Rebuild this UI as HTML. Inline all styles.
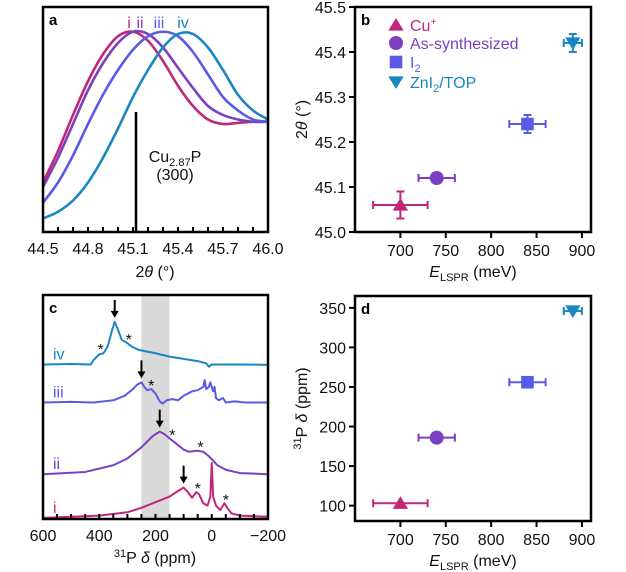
<!DOCTYPE html>
<html><head><meta charset="utf-8">
<style>
html,body{margin:0;padding:0;background:#fff;}
svg{display:block;font-family:"Liberation Sans",Arial,sans-serif;}
</style></head>
<body>
<svg id="fig" width="626" height="572" viewBox="0 0 626 572"></svg>
<script>
// ---------- Panel a data ----------
const aTheta = [44.5,44.6,44.7,44.8,44.9,45.0,45.1,45.2,45.3,45.4,45.5,45.6,45.7,45.8,45.9,46.0];
const aCurveI   = [22,36,52,67,79,87,89,85,76,65,56,50,48,48.5,49,49];
const aCurveII  = [20,33,48,63,75,84,89,88,82,73,64,56,52,50,49,49];
const aCurveIII = [13,22,34,48,61,72,81,87,89,87,80,70,60,54,50,49];
const aCurveIV  = [6,9,14,22,33,46,60,72,82,88,88,82,72,61,54,50];
const aTicks = [44.5,44.8,45.1,45.4,45.7,46.0];
const aRefLine = 45.12;
// ---------- Panel b/d data ----------
const seriesNames = ["Cu+","As-synthesized","I2","ZnI2/TOP"];
const eLspr = [700,740,840,890];
const eLsprErr = [30,20,20,10];
const theta2 = [45.06,45.12,45.24,45.42];
const theta2Err = [0.03,0.005,0.02,0.02];
const pShift = [103,186,256,346];
const pShiftErr = [0,0,0,0];
const bYTicks = [45.0,45.1,45.2,45.3,45.4,45.5];
const bXTicks = [700,750,800,850,900];
const dYTicks = [100,150,200,250,300,350];
// ---------- Panel c data ----------
const cIVppm = [600,500,430,420,400,385,370,355,345,335,320,300,285,260,200,150,100,50,20,10,0,-100,-200];
const cIVval = [69,69.2,69,71,73.5,74,77,84,88,85,80,78.5,77,75.5,74,72.5,71.5,70.5,69.5,68,69,69,68.8];
const cIIIppm = [600,500,420,350,310,280,265,250,240,230,215,200,185,175,160,140,120,100,70,50,30,25,20,10,5,-5,-10,-15,-25,-40,-50,-80,-120,-200];
const cIIIval = [52,52.3,52,53,55,58,60,61,59,57.5,58,56,52.5,51.5,53,53.5,53,55,57,57.5,59,62,58,59,61,57,59,54,53,54,52,52.5,52,52];
const cIIppm = [600,450,350,300,250,210,185,170,150,130,100,80,50,30,10,-20,-50,-100,-200];
const cIIval = [20,21,24,27,32,37,39,38,36,34,31,30,30.5,30,28,24,22,20.5,20];
const cIppm = [600,400,300,250,200,150,120,100,85,70,55,45,30,15,5,0,-5,-15,-30,-45,-55,-70,-100,-200];
const cIval = [0.5,1.5,3,5,7.5,10,12.5,14,12,9.5,12,11,7,6,10,25,10,6,4,7,5,2.5,1.5,1];
const cXTicks = [600,400,200,0,-200];
const cArrowsPpm = [345,250,185,100];
const cArrowsVal = [88,61,39,14];
const cStarPpm = [395,295,215,140,40,50,-50];
const cStarVal = [74,78.5,58,36,30.5,12,7];
const colors = ["#c2267a","#7b3fbf","#5a5ae8","#1a86c2"];

const NS="http://www.w3.org/2000/svg";
const svg=document.getElementById('fig');
function mk(tag,attrs,parent){const e=document.createElementNS(NS,tag);for(const k in attrs)e.setAttribute(k,attrs[k]);(parent||svg).appendChild(e);return e;}
function txt(x,y,s,size,anchor,fill,parent){const t=mk('text',{x:x,y:y,'font-size':size,'text-anchor':anchor||'middle',fill:fill||'#111'},parent);t.innerHTML=s;return t;}
function smoothPath(pts){let d='M'+pts[0][0]+','+pts[0][1];for(let i=0;i<pts.length-1;i++){const p0=pts[i-1]||pts[i],p1=pts[i],p2=pts[i+1],p3=pts[i+2]||p2;const c1x=p1[0]+(p2[0]-p0[0])/6,c1y=p1[1]+(p2[1]-p0[1])/6,c2x=p2[0]-(p3[0]-p1[0])/6,c2y=p2[1]-(p3[1]-p1[1])/6;d+=` C${c1x},${c1y} ${c2x},${c2y} ${p2[0]},${p2[1]}`;}return d;}

// ===== Panel a =====
const A={x0:43,x1:268,y0:7,y1:232};
const ax=v=>A.x0+(v-44.5)/(46.0-44.5)*(A.x1-A.x0);
const ay=v=>A.y1-v/100*(A.y1-A.y0);
const ga=mk('g',{});


const clipA=mk('clipPath',{id:'clipA'},ga);mk('rect',{x:A.x0,y:A.y0,width:A.x1-A.x0,height:A.y1-A.y0},clipA);
[aCurveI,aCurveII,aCurveIII,aCurveIV].forEach((c,i)=>{
  const p=mk('path',{d:smoothPath(aTheta.map((t,j)=>[ax(t),ay(c[j])])),fill:'none',stroke:colors[i],'stroke-width':2.6,'clip-path':'url(#clipA)'},ga);
  
  
});
const ref=mk('line',{x1:ax(aRefLine),x2:ax(aRefLine),y1:112,y2:A.y1,stroke:'#000','stroke-width':2.5},ga);


const rl=txt(175,162,'Cu<tspan font-size="11" dy="4">2.87</tspan><tspan dy="-4">P</tspan>',16,'middle','#111',ga);


const rl2=txt(175,180,'(300)',16,'middle','#111',ga);


[['i',129],['ii',140],['iii',159],['iv',183]].forEach((l,i)=>{const t=txt(l[1],28,l[0],16,'middle',colors[i],ga);
  
  });
const fa=mk('rect',{x:A.x0,y:A.y0,width:A.x1-A.x0,height:A.y1-A.y0,fill:'none',stroke:'#000','stroke-width':2.5},ga);


for(let v=44.5;v<=46.0001;v+=0.1){const x=ax(v);mk('line',{x1:x,x2:x,y1:A.y1,y2:A.y1-5,stroke:'#000','stroke-width':2},ga);}
aTicks.forEach(v=>{const t=txt(ax(v),254,v.toFixed(1),16,'middle','#111',ga);
  
  });
const axl=txt(155,277,'2<tspan font-style="italic">θ</tspan> (°)',16,'middle','#111',ga);


const la=txt(49,25,'a',15,'start','#000',ga);la.setAttribute('font-weight','bold');



// ===== marker helper =====
function marker(g,kind,x,y,c,s){
  if(kind===0) return mk('polygon',{points:`${x},${y-s} ${x-s*1.1},${y+s*0.8} ${x+s*1.1},${y+s*0.8}`,fill:c},g);
  if(kind===1) return mk('circle',{cx:x,cy:y,r:s,fill:c},g);
  if(kind===2) return mk('rect',{x:x-s*0.9,y:y-s*0.9,width:s*1.8,height:s*1.8,fill:c},g);
  return mk('polygon',{points:`${x},${y+s} ${x-s*1.1},${y-s*0.8} ${x+s*1.1},${y-s*0.8}`,fill:c},g);
}
function scatterPanel(P,yv,yerr,yTicks,ymin,ymax,name,label,ylab,legend,dec){
  const g=mk('g',{});
  
  
  const sx=v=>P.x0+(v-650)/(910-650)*(P.x1-P.x0);
  const sy=v=>P.y1-(v-ymin)/(ymax-ymin)*(P.y1-P.y0);
  const f=mk('rect',{x:P.x0,y:P.y0,width:P.x1-P.x0,height:P.y1-P.y0,fill:'none',stroke:'#000','stroke-width':2.5},g);
  
  
  yTicks.forEach(v=>{const y=sy(v);mk('line',{x1:P.x0-6,x2:P.x0,y1:y,y2:y,stroke:'#000','stroke-width':2},g);
    const t=txt(P.x0-9,y+6,v.toFixed(dec),16,'end','#111',g);
    
    });
  bXTicks.forEach(v=>{const x=sx(v);mk('line',{x1:x,x2:x,y1:P.y1,y2:P.y1+6,stroke:'#000','stroke-width':2},g);
    const t=txt(x,P.y1+24,v,16,'middle','#111',g);
    
    });
  eLspr.forEach((e,i)=>{
    const c=colors[i],x=sx(e),y=sy(yv[i]);
    const x1=sx(e-eLsprErr[i]),x2=sx(e+eLsprErr[i]);
    mk('line',{x1:x1,x2:x2,y1:y,y2:y,stroke:c,'stroke-width':2},g);
    mk('line',{x1:x1,x2:x1,y1:y-4,y2:y+4,stroke:c,'stroke-width':2},g);
    mk('line',{x1:x2,x2:x2,y1:y-4,y2:y+4,stroke:c,'stroke-width':2},g);
    if(yerr[i]>0){const ya=sy(yv[i]-yerr[i]),yb=sy(yv[i]+yerr[i]);
      mk('line',{x1:x,x2:x,y1:ya,y2:yb,stroke:c,'stroke-width':2},g);
      mk('line',{x1:x-4,x2:x+4,y1:ya,y2:ya,stroke:c,'stroke-width':2},g);
      mk('line',{x1:x-4,x2:x+4,y1:yb,y2:yb,stroke:c,'stroke-width':2},g);}
    const m=marker(g,i,x,y,c,7);
    
    
  });
  const pl=txt(P.x0+6,P.y0+18,label,15,'start','#000',g);pl.setAttribute('font-weight','bold');
  
  
  const xt=txt((P.x0+P.x1)/2,P.y1+45,'<tspan font-style="italic">E</tspan><tspan font-size="11" dy="4">LSPR</tspan><tspan dy="-4"> (meV)</tspan>',16,'middle','#111',g);
  
  
  const cy=(P.y0+P.y1)/2;
  const yt=txt(0,0,ylab,16,'middle','#111',g);yt.setAttribute('transform',`translate(${P.x0-48},${cy}) rotate(-90)`);
  
  
  if(legend){
    const rows=[25,43,62,82];
    const labs=['Cu<tspan font-size="10" dy="-6">+</tspan>','As-synthesized','I<tspan font-size="11" dy="4">2</tspan>','ZnI<tspan font-size="11" dy="4">2</tspan><tspan dy="-4">/TOP</tspan>'];
    rows.forEach((y,i)=>{
      const le=mk('g',{},g);
      
      
      marker(le,i,396,y,colors[i],7);
      txt(410,y+6,labs[i],16,'start',colors[i],le);
    });
  }
  return g;
}
scatterPanel({x0:355,x1:591,y0:7,y1:232},theta2,theta2Err,bYTicks,45.0,45.5,'panel-b','b','2<tspan font-style="italic">θ</tspan> (°)',true,1);
scatterPanel({x0:355,x1:591,y0:296,y1:521},pShift,pShiftErr,dYTicks,80.6,365,'panel-d','d','<tspan font-size="11" dy="-6">31</tspan><tspan dy="6">P </tspan><tspan font-style="italic">δ</tspan> (ppm)',false,0);

// ===== Panel c =====
const C={x0:43,x1:268,y0:295,y1:519};
const cx=v=>C.x0+(600-v)/800*(C.x1-C.x0);
const cy=v=>C.y1-v/100*(C.y1-C.y0);
const gc=mk('g',{});


const sh=mk('rect',{x:cx(250),y:C.y0,width:cx(150)-cx(250),height:C.y1-C.y0,fill:'#d9d9d9'},gc);


[[cIppm,cIval],[cIIppm,cIIval],[cIIIppm,cIIIval],[cIVppm,cIVval]].forEach((s,i)=>{
  const p=mk('polyline',{points:s[0].map((v,j)=>cx(v)+','+cy(s[1][j])).join(' '),fill:'none',stroke:colors[i],'stroke-width':2,'stroke-linejoin':'round'},gc);
  
  
});
cArrowsPpm.forEach((v,i)=>{const x=cx(v),y=cy(cArrowsVal[i])-4;
  const a=mk('g',{},gc);
  
  
  mk('line',{x1:x,x2:x,y1:y-18,y2:y-5,stroke:'#000','stroke-width':2},a);
  mk('polygon',{points:`${x-4},${y-7} ${x+4},${y-7} ${x},${y}`,fill:'#000'},a);});
cStarPpm.forEach((v,i)=>{const t=txt(cx(v),cy(cStarVal[i])+2,'*',16,'middle','#111',gc);
  
  });
[['i',cIval[0]],['ii',cIIval[0]],['iii',cIIIval[0]],['iv',cIVval[0]]].forEach((l,i)=>{
  const t=txt(53,cy(l[1])-5,l[0],16,'start',colors[i],gc);
  
  });
const fc=mk('rect',{x:C.x0,y:C.y0,width:C.x1-C.x0,height:C.y1-C.y0,fill:'none',stroke:'#000','stroke-width':2.5},gc);


for(let v=600;v>=-200;v-=50){const x=cx(v);mk('line',{x1:x,x2:x,y1:C.y1,y2:C.y1-5,stroke:'#000','stroke-width':2},gc);}
cXTicks.forEach(v=>{const t=txt(cx(v),541,v<0?'−'+(-v):v,16,'middle','#111',gc);
  
  });
const cxl=txt(155,563,'<tspan font-size="11" dy="-6">31</tspan><tspan dy="6">P </tspan><tspan font-style="italic">δ</tspan> (ppm)',16,'middle','#111',gc);


const lc=txt(49,313,'c',15,'start','#000',gc);lc.setAttribute('font-weight','bold');


</script>
</body></html>
